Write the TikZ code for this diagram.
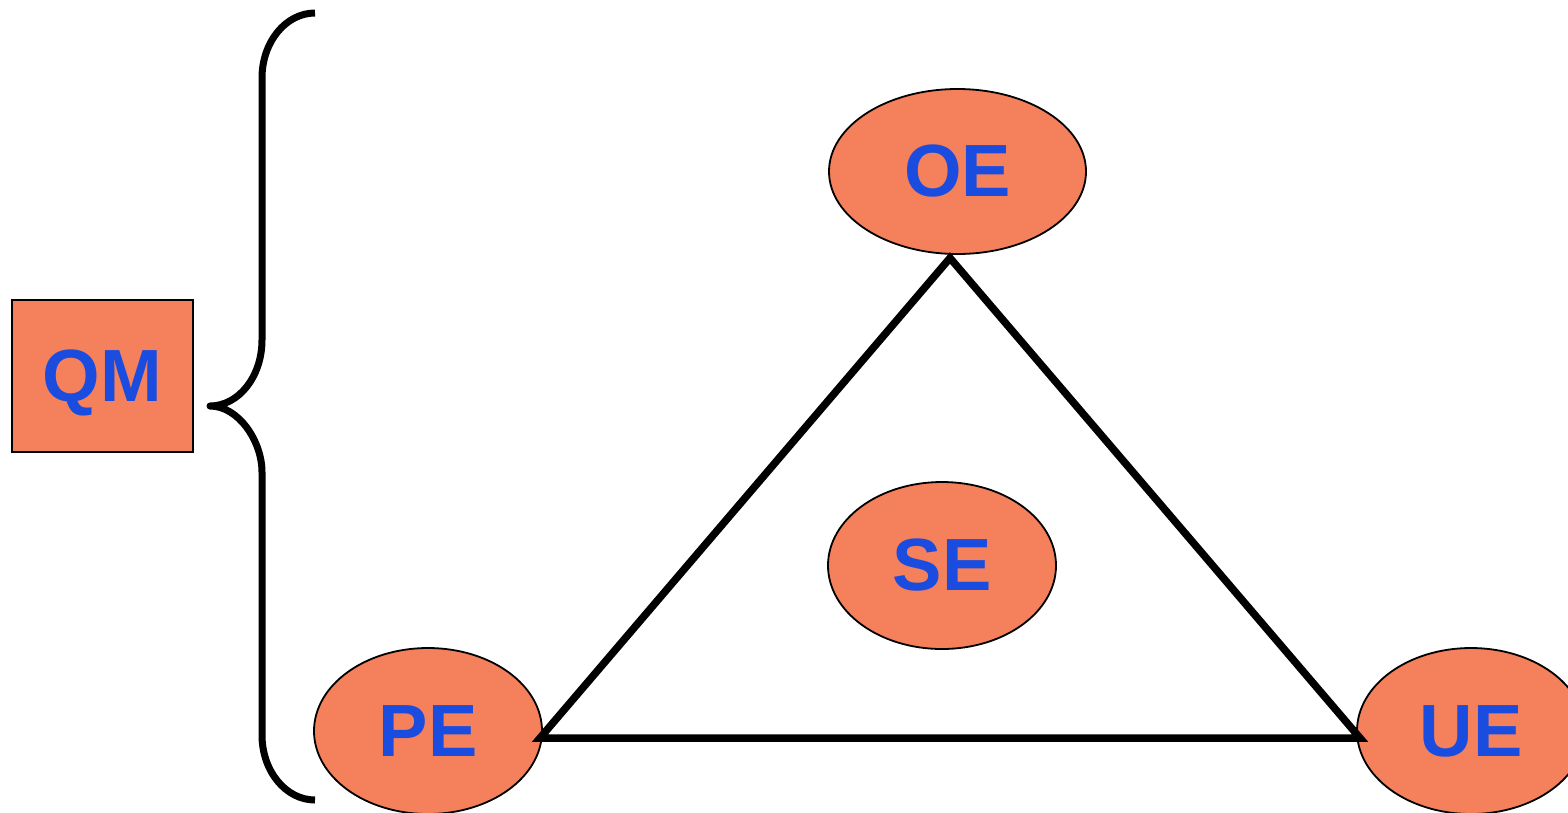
\documentclass[tikz,border=0pt]{standalone}
\usepackage{fontspec}
\setmainfont{Liberation Sans}
\usetikzlibrary{shapes.geometric}
\definecolor{salmon}{RGB}{244,128,92}
\definecolor{lblue}{RGB}{26,76,224}
\tikzset{
  lbl/.style={font=\fontsize{74}{78}\selectfont\bfseries, text=lblue, text height=50pt, text depth=0pt},
  oval/.style={ellipse, draw=black, line width=1.8pt, fill=salmon, inner sep=0pt, lbl},
  box/.style={rectangle, draw=black, line width=1.8pt, fill=salmon, inner sep=0pt, lbl},
  thick line/.style={line width=7.5pt, draw=black}
}
\begin{document}
\begin{tikzpicture}[x=1pt,y=-1pt]
\useasboundingbox (0,0) rectangle (1568,812);
\node[box, minimum width=181pt, minimum height=152pt] (qm) at (102.5,376) {QM};
\node[oval, minimum width=257pt, minimum height=165pt] (oe) at (957.5,171.5) {OE};
\node[oval, minimum width=228pt, minimum height=167pt] (se) at (942,565.5) {SE};
\node[oval, minimum width=228pt, minimum height=166pt] (pe) at (428,731) {PE};
\node[oval, minimum width=228pt, minimum height=166pt] (ue) at (1471,731) {UE};
\coordinate (tl) at (540,738);
\coordinate (tt) at (950,258);
\coordinate (tr) at (1360,738);
\draw[thick line, line join=miter] (tl) -- (tt) -- (tr) -- cycle;
\coordinate (b0) at (315,13);
\coordinate (b1) at (262,78);
\coordinate (b2) at (262,340);
\coordinate (tip) at (210,406);
\coordinate (b3) at (262,472);
\coordinate (b4) at (262,735);
\coordinate (b5) at (315,800);
\draw[line width=7pt, line join=round, line cap=butt]
  (b0) .. controls (285.7,13) and (262,42.1) .. (b1)
  -- (b2) .. controls (262,376.5) and (238.7,406) .. (tip)
  .. controls (238.7,406) and (262,441.5) .. (b3)
  -- (b4) .. controls (262,771) and (285.7,800) .. (b5);
\end{tikzpicture}
\end{document}
